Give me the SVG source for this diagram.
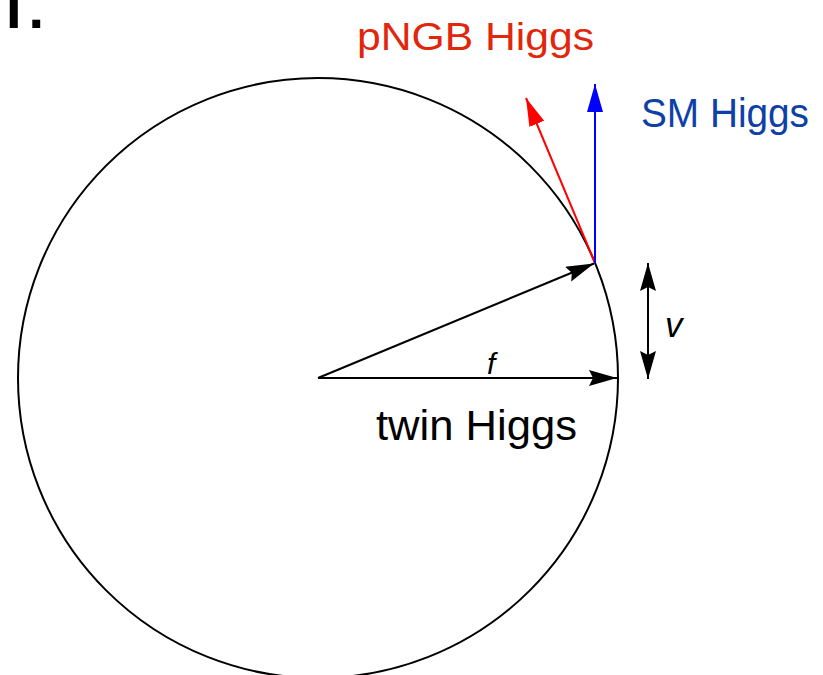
<svg xmlns="http://www.w3.org/2000/svg" width="823" height="675" viewBox="0 0 823 675">
<style>
.lbl{font-family:"Liberation Sans","DejaVu Sans",sans-serif;}
.k{stroke:#000;stroke-width:2;fill:none;}
</style>
<defs>
<marker id="ak" markerUnits="userSpaceOnUse" markerWidth="30" markerHeight="18" refX="28" refY="8" orient="auto"><path d="M0,0 L28,8 L0,16 L4,8 z" fill="#000"/></marker>
<marker id="ak2" markerUnits="userSpaceOnUse" markerWidth="30" markerHeight="18" refX="28" refY="8" orient="auto-start-reverse"><path d="M0,0 L28,8 L0,16 L4,8 z" fill="#000"/></marker>
<marker id="ar" markerUnits="userSpaceOnUse" markerWidth="30" markerHeight="18" refX="28" refY="8" orient="auto"><path d="M0,0 L28,8 L0,16 z" fill="#ff0000"/></marker>
<marker id="ab" markerUnits="userSpaceOnUse" markerWidth="30" markerHeight="18" refX="28" refY="8" orient="auto"><path d="M0,0 L28,8 L0,16 z" fill="#0000ff"/></marker>
</defs>
<rect width="823" height="675" fill="#fff"/>
<text class="lbl" x="6" y="28" font-size="56" font-weight="bold" textLength="38" lengthAdjust="spacing">I.</text>
<g id="circle"><circle cx="318" cy="378" r="300" class="k"/></g>
<g id="connectors">
<line x1="318" y1="378" x2="617" y2="378" class="k" marker-end="url(#ak)"/>
<line x1="318" y1="378" x2="594" y2="263.5" class="k" marker-end="url(#ak)"/>
<line x1="595" y1="263" x2="526" y2="98" stroke="#ff0000" stroke-width="2" marker-end="url(#ar)"/>
<line x1="595" y1="263" x2="595" y2="84" stroke="#0000ff" stroke-width="2" marker-end="url(#ab)"/>
<line x1="648" y1="263" x2="648" y2="379" class="k" marker-start="url(#ak2)" marker-end="url(#ak2)"/>
</g>
<g id="labels">
<text class="lbl" x="357" y="50" font-size="39" fill="#e2260b" textLength="237" lengthAdjust="spacingAndGlyphs">pNGB Higgs</text>
<text class="lbl" x="641" y="127" font-size="41" fill="#0d41a8" textLength="168" lengthAdjust="spacingAndGlyphs">SM Higgs</text>
<text class="lbl" x="376" y="440" font-size="43" fill="#000" textLength="201" lengthAdjust="spacingAndGlyphs">twin Higgs</text>
<text class="lbl" x="487" y="374" font-size="30" font-style="italic" fill="#000">f</text>
<text class="lbl" x="665" y="337" font-size="35" font-style="italic" fill="#000">v</text>
</g>
</svg>
